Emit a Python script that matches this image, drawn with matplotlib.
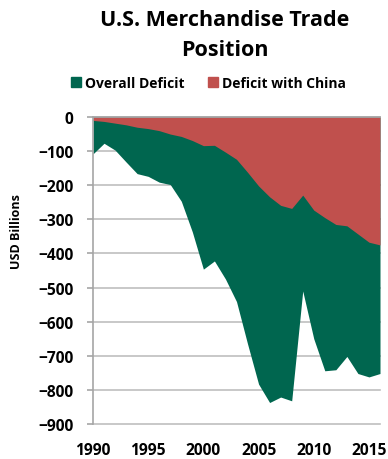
import matplotlib
matplotlib.use("Agg")
import matplotlib.pyplot as plt
from matplotlib.patches import Patch

plt.rcParams["font.family"] = ["Open Sans", "DejaVu Sans"]
plt.rcParams["font.weight"] = "bold"

years = list(range(1990, 2017))
overall_deficit = [-108, -77, -97, -132, -166, -174, -191, -198, -247, -337,
                   -446, -422, -475, -541, -665, -783, -837, -821, -832, -510,
                   -650, -744, -741, -702, -752, -762, -752]
china_deficit = [-10, -13, -18, -23, -30, -34, -40, -50, -57, -69,
                 -84, -83, -103, -124, -162, -202, -234, -259, -268, -229,
                 -273, -295, -315, -319, -343, -367, -375]
y_ticks = list(range(0, -1000, -100))
x_ticks = [1990, 1995, 2000, 2005, 2010, 2015]

green = "#00664F"
red = "#C0504D"
grid_gray = "#BFBFBF"

fig = plt.figure(figsize=(3.88, 4.60), dpi=100)
ax = fig.add_axes([93 / 388, 1 - 425 / 460, 287 / 388, 307 / 460])

ax.fill_between(years, 0, overall_deficit, color=green, lw=0, zorder=2)
ax.fill_between(years, 0, china_deficit, color=red, lw=0, zorder=3)

ax.set_xlim(1990, 2016)
ax.set_ylim(-900, 0)
ax.set_yticks(y_ticks)
ax.set_xticks(x_ticks)
for t in y_ticks:
    ax.axhline(t, color=grid_gray, lw=1.2, zorder=1, clip_on=False)

for side in ["right", "bottom"]:
    ax.spines[side].set_visible(False)
for side in ["left", "top"]:
    ax.spines[side].set_color("#A6A6A6")
    ax.spines[side].set_linewidth(1.2)
    ax.spines[side].set_zorder(4)

ax.tick_params(axis="y", length=4, width=1.2, color="#A6A6A6", pad=10,
               labelsize=11.2)
ax.tick_params(axis="x", length=0, pad=13, labelsize=11.2)

ax.set_ylabel("USD Billions", fontsize=9, fontweight="bold")
ax.yaxis.set_label_coords(-0.245, 0.63)

fig.text(0.58, 0.955, "U.S. Merchandise Trade", ha="center", va="center",
         fontsize=15.5, fontweight="bold")
fig.text(0.58, 0.890, "Position", ha="center", va="center",
         fontsize=15.5, fontweight="bold")

handles = [Patch(color=green, label="Overall Deficit"),
           Patch(color=red, label="Deficit with China")]
fig.legend(handles=handles, loc="center", bbox_to_anchor=(0.537, 0.818),
           ncol=2, frameon=False, fontsize=10, handlelength=0.7,
           handleheight=0.7, handletextpad=0.3, columnspacing=1.7)

fig.savefig("out.png", dpi=100)
